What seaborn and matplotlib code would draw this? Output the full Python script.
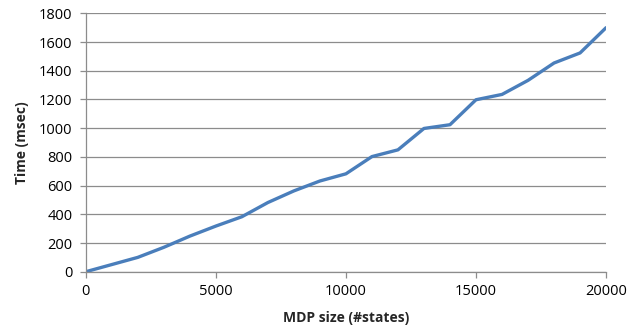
import numpy as np
import pandas as pd
import matplotlib
matplotlib.use('Agg')
import matplotlib.pyplot as plt
import seaborn as sns

# MDP size (number of states) vs solve time
states = [0, 1000, 2000, 3000, 4000, 5000, 6000, 7000, 8000, 9000, 10000,
          11000, 12000, 13000, 14000, 15000, 16000, 17000, 18000, 19000, 20000]
time_ms = [0, 50, 100, 170, 248, 318, 383, 482, 563, 632, 682,
           802, 849, 998, 1024, 1198, 1235, 1333, 1454, 1524, 1700]

df = pd.DataFrame({'states': states, 'time': time_ms})

sns.set_style('white')
plt.rcParams['font.family'] = ['Open Sans', 'DejaVu Sans']

fig = plt.figure(figsize=(6.4, 3.33), dpi=100)
ax = fig.add_axes([0.134, 0.184, 0.813, 0.776])

sns.lineplot(data=df, x='states', y='time', ax=ax, color='#4A7EBB', linewidth=2.4)

ax.set_xlim(0, 20000)
ax.set_ylim(0, 1800)
ax.set_xticks(range(0, 20001, 5000))
ax.set_yticks(range(0, 1801, 200))
ax.yaxis.grid(True, color='#8c8c8c', linewidth=0.9)
ax.set_axisbelow(True)

for s in ['top', 'right']:
    ax.spines[s].set_visible(False)
for s in ['left', 'bottom']:
    ax.spines[s].set_color('#8c8c8c')
    ax.spines[s].set_linewidth(0.9)

ax.tick_params(axis='both', which='major', direction='out', length=4.5, width=0.9,
               color='#8c8c8c', labelsize=10.5, labelcolor='black',
               left=True, bottom=True)
ax.tick_params(axis='y', pad=5)
ax.tick_params(axis='x', pad=4)

ax.set_xlabel('MDP size (#states)', fontsize=10, fontweight='bold', labelpad=9)
ax.set_ylabel('Time (msec)', fontsize=10, fontweight='bold', labelpad=7)

fig.savefig('out.png', dpi=100)
